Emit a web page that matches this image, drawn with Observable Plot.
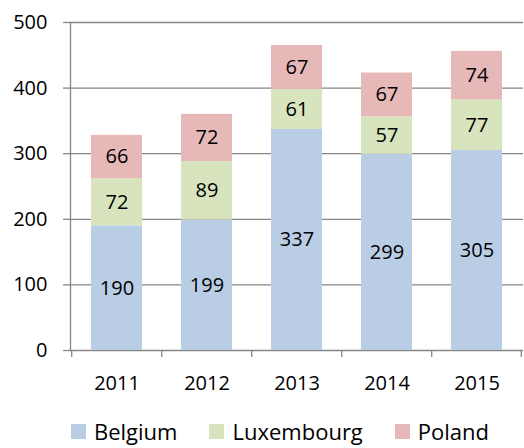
<!DOCTYPE html>
<html><head><meta charset="utf-8">
<script src="https://cdn.jsdelivr.net/npm/d3@7"></script>
<script src="https://cdn.jsdelivr.net/npm/@observablehq/plot@0.6"></script>
<style>
body{margin:0;background:#fff;font-family:"Open Sans",sans-serif;}
#legend{display:flex;justify-content:flex-start;align-items:center;height:48px;padding-left:71px;padding-top:14px;box-sizing:border-box;font-size:22px;color:#000;line-height:1.1;}
#legend .item{display:flex;align-items:center;margin-right:32px;}
#legend .sw{width:15px;height:15px;margin-right:8px;}
</style>
</head><body>
<div id="chart"></div>
<script>
const years = ["2011", "2012", "2013", "2014", "2015"];
const countries = ["Belgium", "Luxembourg", "Poland"];
const belgium = [190, 199, 337, 299, 305];
const luxembourg = [72, 89, 61, 57, 77];
const poland = [66, 72, 67, 67, 74];
const colors = ["#b9cde5", "#d7e4bd", "#e6b9b8"];
const yTicks = [0, 100, 200, 300, 400, 500];

const series = [belgium, luxembourg, poland];
const data = [];
countries.forEach((c, ci) => years.forEach((y, yi) => data.push({year: y, country: c, value: series[ci][yi]})));

const W = 524, mL = 70, mR = 1;
const step = (W - mL - mR) / years.length;
const grey = "#868686";

const chart = Plot.plot({
  width: W, height: 400,
  marginLeft: mL, marginRight: mR, marginTop: 22, marginBottom: 50,
  style: {fontFamily: "'Open Sans', sans-serif", fontSize: "20px", color: "#000", background: "#fff"},
  x: {domain: years, paddingInner: 0.43, paddingOuter: 0.215, axis: null},
  y: {domain: [0, 500], axis: null},
  color: {domain: countries, range: colors},
  marks: [
    Plot.ruleY(yTicks, {stroke: grey, strokeWidth: 1.3}),
    Plot.axisY(yTicks, {label: null, tickSize: 7, tickPadding: 16, stroke: grey, strokeWidth: 1.3, fill: "#000", fontSize: 20, tickFormat: d => String(d)}),
    Plot.frame({anchor: "left", stroke: grey, strokeWidth: 1.3}),
    Plot.ruleX(years, {x: d => d, y1: 0, y2: 0, insetBottom: -7, dx: -step / 2, stroke: grey, strokeWidth: 1.3}),
    Plot.ruleX(years.slice(-1), {x: d => d, y1: 0, y2: 0, insetBottom: -7, dx: step / 2 - 1, stroke: grey, strokeWidth: 1.3}),
    Plot.barY(data, {x: "year", y: "value", fill: "country", z: "country"}),
    Plot.text(data, Plot.stackY({x: "year", y: "value", z: "country", text: d => String(d.value), fill: "#000", fontSize: 20})),
    Plot.axisX({label: null, tickSize: 0, tickPadding: 25, fontSize: 20, fill: "#000"})
  ]
});
document.getElementById("chart").appendChild(chart);

const legend = document.createElement("div");
legend.id = "legend";
countries.forEach((c, i) => {
  const it = document.createElement("div");
  it.className = "item";
  const sw = document.createElement("span");
  sw.className = "sw";
  sw.style.background = colors[i];
  const t = document.createElement("span");
  t.textContent = c;
  it.appendChild(sw); it.appendChild(t);
  legend.appendChild(it);
});
document.body.appendChild(legend);
</script>
</body></html>
